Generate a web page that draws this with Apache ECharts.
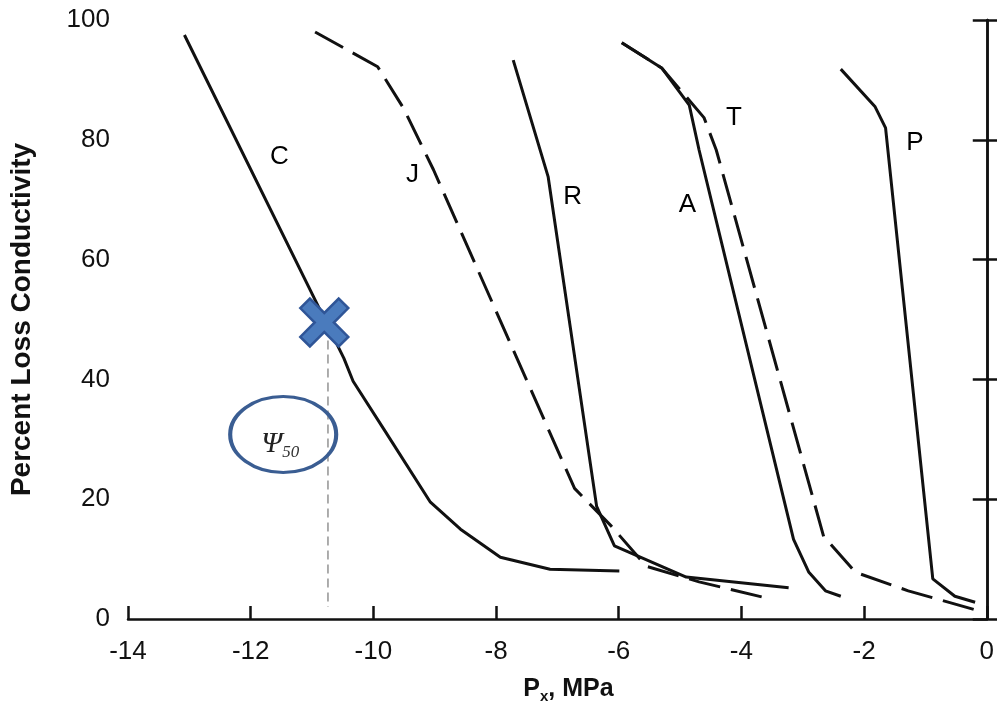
<!DOCTYPE html>
<html>
<head>
<meta charset="utf-8">
<script src="https://cdn.jsdelivr.net/npm/echarts@6/dist/echarts.min.js"></script>
<style>
  html, body { margin: 0; padding: 0; background: #fff; }
  #charts { width: 997px; height: 709px; }
</style>
</head>
<body>
<div id="charts"></div>
<script>
// curves: x = Px (MPa), y = percent loss conductivity
const cX = [-13.08, -10.48, -10.33, -9.83, -9.07, -8.58, -7.93, -7.12, -5.99];
const cY = [97.5, 43.5, 39.7, 31.7, 19.5, 15.0, 10.3, 8.3, 8.0];

const jX = [-10.95, -9.93, -9.51, -9.02, -6.72, -6.12, -5.55, -4.69, -3.67];
const jY = [98.0, 92.2, 85.3, 75.0, 21.8, 15.5, 8.8, 6.2, 3.7];

const rX = [-7.72, -7.15, -6.36, -6.07, -4.90, -3.23];
const rY = [93.3, 73.8, 18.8, 12.2, 7.0, 5.2];

const aX = [-5.95, -5.30, -4.85, -4.69, -3.15, -2.90, -2.63, -2.38];
const aY = [96.2, 92.0, 85.8, 78.3, 13.3, 7.8, 4.7, 3.8];

const tX = [-5.95, -5.30, -4.61, -4.41, -2.66, -2.14, -1.28, -0.11];
const tY = [96.2, 92.0, 83.7, 78.3, 13.8, 7.8, 4.7, 1.3];

const pX = [-2.38, -1.82, -1.65, -0.88, -0.52, -0.19];
const pY = [91.8, 85.5, 82.0, 6.7, 3.8, 2.8];

// curve letters
const curveNames = ['C', 'J', 'R', 'A', 'T', 'P'];
const labelX = [-11.53, -9.36, -6.75, -4.88, -4.12, -1.17];
const labelY = [77.2, 74.2, 70.5, 69.2, 83.7, 79.5];

// psi50 marker
const psi50 = [-10.8, 49.5];
const psi50Drop = [[-10.74, 46.5], [-10.74, 2]];
const psiBubble = [-11.47, 30.8];

const xTicks = { min: -14, max: 0, step: 2 };
const yTicks = { min: 0, max: 100, step: 20 };

const zip = (xs, ys) => xs.map((x, i) => [x, ys[i]]);

const ink = '#111';
const sans = '"Liberation Sans", Arial, sans-serif';
const serif = '"Liberation Serif", "DejaVu Serif", serif';

const curve = (name, xs, ys, dashed) => ({
    name: name,
    type: 'line',
    data: zip(xs, ys),
    symbol: 'none',
    lineStyle: { color: ink, width: 3, type: dashed ? [32, 11] : 'solid' },
    z: 3
});

var chartDom = document.getElementById('charts');
var myChart = echarts.init(chartDom);

const axisCommon = {
    axisLine: { lineStyle: { color: ink, width: 2.5 } },
    splitLine: { show: false }
};

var option = {
    animation: false,
    backgroundColor: '#fff',
    grid: { left: 126, right: 8, top: 20, bottom: 89 },
    xAxis: {
        type: 'value',
        min: xTicks.min, max: xTicks.max, interval: xTicks.step,
        ...axisCommon,
        axisTick: { inside: true, length: 13, lineStyle: { color: ink, width: 2.5 } },
        axisLabel: { fontSize: 26, color: ink, margin: 20, fontFamily: sans },
        name: '{b|P}{s|x}{b|, MPa}',
        nameLocation: 'middle',
        nameGap: 56,
        nameTextStyle: {
            padding: [0, 0, 0, 22],
            rich: {
                b: { fontSize: 25, fontWeight: 'bold', color: ink, fontFamily: sans },
                s: { fontSize: 15, fontWeight: 'bold', color: ink, fontFamily: sans, padding: [14, 0, 0, 0] }
            }
        }
    },
    yAxis: [{
        type: 'value',
        min: yTicks.min, max: yTicks.max, interval: yTicks.step,
        ...axisCommon,
        axisTick: { inside: true, length: 14, lineStyle: { color: ink, width: 2.5 } },
        axisLabel: { fontSize: 26, color: ink, margin: 18, fontFamily: sans },
        name: 'Percent Loss Conductivity',
        nameLocation: 'middle',
        nameGap: 92,
        nameTextStyle: { fontSize: 28, fontWeight: 'bold', color: ink, fontFamily: sans }
    }, {
        type: 'value',
        position: 'right',
        min: yTicks.min, max: yTicks.max, interval: yTicks.step,
        ...axisCommon,
        axisTick: { inside: true, length: 14, lineStyle: { color: ink, width: 2.5 } },
        axisLabel: { show: false }
    }],
    series: [
        curve('C', cX, cY, false),
        curve('J', jX, jY, true),
        curve('R', rX, rY, false),
        curve('A', aX, aY, false),
        curve('T', tX, tY, true),
        curve('P', pX, pY, false),
        {
            name: 'drop',
            type: 'line',
            data: psi50Drop,
            symbol: 'none',
            lineStyle: { color: '#777', width: 1.2, type: [9, 5] },
            z: 2
        },
        {
            name: 'letters',
            type: 'scatter',
            symbolSize: 0,
            itemStyle: { opacity: 1 },
            data: curveNames.map((n, i) => ({ name: n, value: [labelX[i], labelY[i]] })),
            label: {
                show: true, position: 'inside', formatter: '{b}',
                fontSize: 26, color: '#000', fontFamily: sans, textBorderWidth: 0
            },
            z: 4
        },
        {
            name: 'psi50',
            type: 'scatter',
            data: [psi50],
            symbol: 'path://M0,2 L2,0 L5,3 L8,0 L10,2 L7,5 L10,8 L8,10 L5,7 L2,10 L0,8 L3,5 Z',
            symbolSize: 48,
            itemStyle: { color: '#4a7bbd', borderColor: '#2f5597', borderWidth: 2.5, opacity: 1 },
            z: 6
        },
        {
            name: 'bubble',
            type: 'scatter',
            data: [psiBubble],
            symbol: 'circle',
            symbolSize: [106, 76],
            itemStyle: { color: 'rgba(0,0,0,0)', borderColor: '#3a5d92', borderWidth: 3.5, opacity: 1 },
            label: {
                show: true,
                position: 'inside',
                offset: [-3, 10],
                formatter: '{p|Ψ}{s|50}',
                rich: {
                    p: { fontSize: 30, fontStyle: 'italic', color: '#222', fontFamily: serif },
                    s: { fontSize: 17, fontStyle: 'italic', color: '#333', fontFamily: serif, padding: [16, 0, 0, 0] }
                }
            },
            z: 5
        }
    ]
};

myChart.setOption(option);
</script>
</body>
</html>
